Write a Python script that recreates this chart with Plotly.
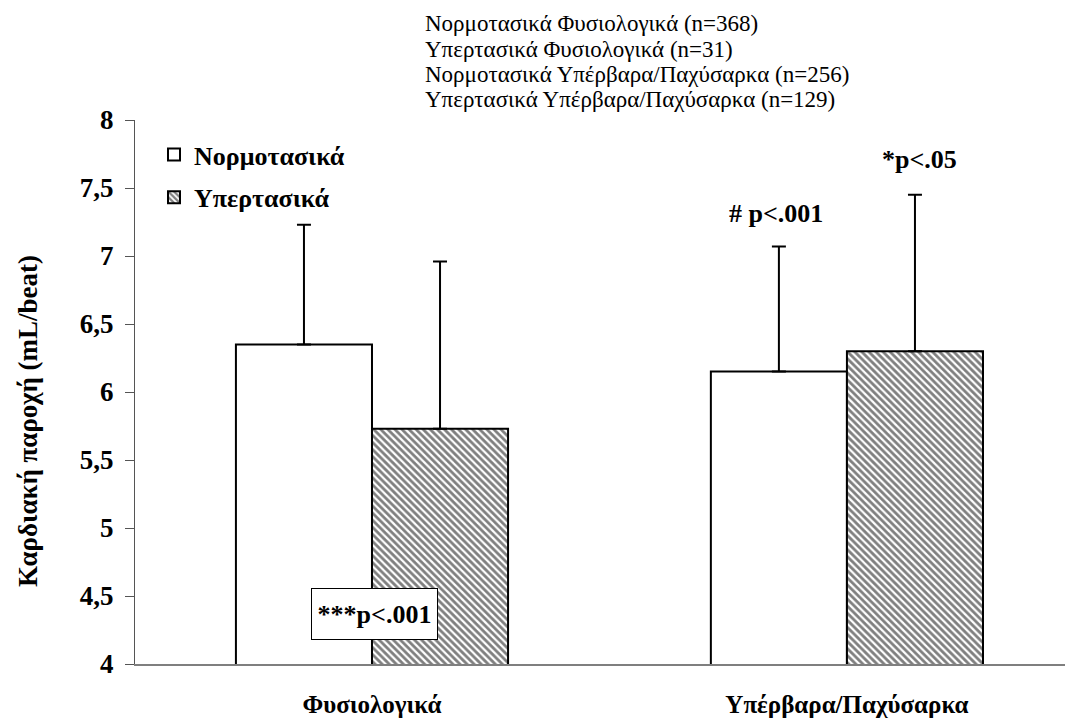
import plotly.graph_objects as go

categories = ["Φυσιολογικά", "Υπέρβαρα/Παχύσαρκα"]
series_names = ["Νορμοτασικά", "Υπερτασικά"]
normo_mean = [6.35, 6.15]
normo_sd = [0.88, 0.92]
hyper_mean = [5.73, 6.30]
hyper_sd = [1.23, 1.15]
y_ticks = [4, 4.5, 5, 5.5, 6, 6.5, 7, 7.5, 8]
y_tick_labels = ["4", "4,5", "5", "5,5", "6", "6,5", "7", "7,5", "8"]
sample_lines = [
    "Νορμοτασικά Φυσιολογικά (n=368)",
    "Υπερτασικά Φυσιολογικά (n=31)",
    "Νορμοτασικά Υπέρβαρα/Παχύσαρκα (n=256)",
    "Υπερτασικά Υπέρβαρα/Παχύσαρκα (n=129)",
]
y_title = "Καρδιακή παροχή (mL/beat)"

FONT = "Liberation Serif"
OFF = 8  # page body margin offset
W, H = 1073, 720
L = 135 - OFF
T = 120 - OFF
R = OFF
B = H - (664 - OFF)
plot_w = W - L - R
plot_h = H - T - B


def px_x(xs):
    return (xs - OFF - L) / plot_w


def px_y(ys):
    return (H - B - (ys - OFF)) / plot_h


fig = go.Figure()
fig.add_trace(go.Bar(
    name=series_names[0], x=categories, y=normo_mean, legendgroup="a",
    marker=dict(color="white", line=dict(color="black", width=2)),
    error_y=dict(type="data", symmetric=False, array=normo_sd, arrayminus=[0, 0],
                 color="black", thickness=2, width=7),
))
fig.add_trace(go.Bar(
    name=series_names[1], x=categories, y=hyper_mean, legendgroup="b",
    marker=dict(color="white", line=dict(color="black", width=2),
                pattern=dict(shape="\\", fgcolor="black", bgcolor="white",
                             size=5, solidity=0.55)),
    error_y=dict(type="data", symmetric=False, array=hyper_sd, arrayminus=[0, 0],
                 color="black", thickness=2, width=7),
))

fig.update_layout(
    width=W, height=H,
    margin=dict(l=L, r=R, t=T, b=B, autoexpand=False),
    paper_bgcolor="white", plot_bgcolor="white",
    barmode="group", bargap=0.427, bargroupgap=0,
    font=dict(family=FONT, color="black"),
    showlegend=True,
    legend=dict(x=px_x(154), y=px_y(131), xanchor="left", yanchor="top",
                font=dict(size=26, family=FONT, color="black", weight="bold"),
                bgcolor="rgba(0,0,0,0)", tracegroupgap=6, itemwidth=30),
    xaxis=dict(type="category", range=[-0.499, 1.476], showgrid=False,
               automargin=False,
               showline=True, linecolor="#7f7f7f", linewidth=2, ticks="",
               tickfont=dict(size=25, family=FONT, color="black", weight="bold"),
               ticklabelstandoff=17),
    yaxis=dict(range=[4, 8], tickvals=y_ticks, ticktext=y_tick_labels,
               automargin=False,
               showgrid=False, zeroline=False, showline=True,
               linecolor="#555555", linewidth=1, ticks="outside", ticklen=9,
               tickcolor="#555555", ticklabelstandoff=6,
               tickfont=dict(size=27, family=FONT, color="black", weight="bold")),
)

# y-axis title placed as rotated text
fig.add_annotation(x=px_x(28), y=px_y(421),
                   xref="paper", yref="paper", text=y_title, textangle=-90,
                   showarrow=False, xanchor="center", yanchor="middle",
                   font=dict(size=27, family=FONT, color="black", weight="bold"))

fig.add_annotation(x=0.005, y=4.37, xref="x", yref="y", text="<b>***p<.001</b>",
                   showarrow=False, font=dict(size=26, family=FONT, color="black"),
                   bgcolor="white", bordercolor="black", borderwidth=1, borderpad=6,
                   width=113, height=38)
fig.add_annotation(x=0.85, y=7.31, xref="x", yref="y", text="<b># p<.001</b>",
                   showarrow=False, font=dict(size=26, family=FONT, color="black"))
fig.add_annotation(x=1.152, y=7.71, xref="x", yref="y", text="<b>*p<.05</b>",
                   showarrow=False, font=dict(size=26, family=FONT, color="black"))

for i, line in enumerate(sample_lines):
    y_px = 24 + 25.3 * i
    fig.add_annotation(x=px_x(423), y=px_y(y_px),
                       xref="paper", yref="paper", xanchor="left", yanchor="middle",
                       align="left", text=line, showarrow=False,
                       font=dict(size=23, family=FONT, color="black"))

fig.write_html("out.html")
